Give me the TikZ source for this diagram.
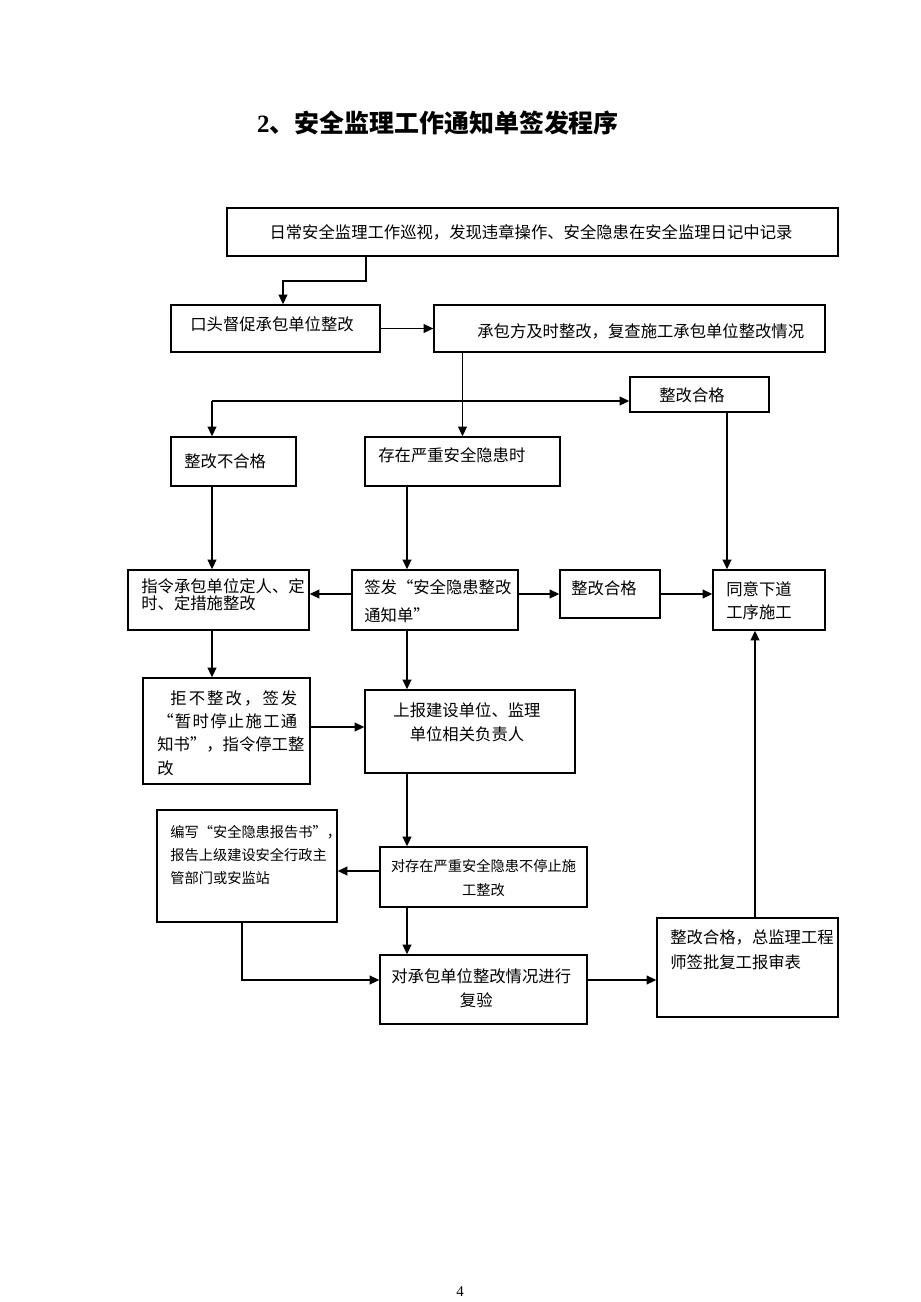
\documentclass[tikz,border=0pt]{standalone}
\usepackage{fontspec}
\setmainfont{Liberation Serif}
\newfontfamily\cjk{Noto Sans CJK SC}
\usetikzlibrary{arrows.meta}

\tikzset{
  box/.style={draw, line width=0.8pt, inner sep=0pt},
  txt/.style={font=\cjk\fontsize{9.3}{13.6}\selectfont, inner sep=0pt, align=left},
  smalltxt/.style={font=\cjk\fontsize{8.1}{13.3}\selectfont, inner sep=0pt},
  arr/.style={-{Triangle[length=5.5pt,width=5pt]}, line width=0.8pt},
}

\begin{document}
\begin{tikzpicture}[x=0.02cm, y=-0.02cm]
  \useasboundingbox (0,0) rectangle (920,1302);

  % title
  \node[font=\cjk\bfseries\fontsize{14.2}{16}\selectfont, inner sep=0pt] (title) at (438,123)
       {{\rmfamily 2}、安全监理工作通知单签发程序};

  % boxes, top to bottom
  \node[box, minimum width=12.22cm, minimum height=0.96cm] (top) at (532.5,232) {};
  \node[box, minimum width=4.18cm, minimum height=0.94cm] (oral) at (275.5,328.5) {};
  \node[box, minimum width=7.82cm, minimum height=0.94cm] (recheck) at (629.5,328.5) {};
  \node[box, minimum width=2.78cm, minimum height=0.70cm] (okA) at (699.5,394.5) {};
  \node[box, minimum width=2.5cm, minimum height=0.98cm] (fail) at (233.5,461.5) {};
  \node[box, minimum width=3.9cm, minimum height=0.98cm] (serious) at (462.5,461.5) {};
  \node[box, minimum width=3.62cm, minimum height=1.2cm] (order) at (218.5,600) {};
  \node[box, minimum width=3.32cm, minimum height=1.2cm] (issue) at (435,600) {};
  \node[box, minimum width=2.0cm, minimum height=0.96cm] (okB) at (610,594) {};
  \node[box, minimum width=2.24cm, minimum height=1.2cm] (agree) at (769,600) {};
  \node[box, minimum width=3.34cm, minimum height=2.12cm] (refuse) at (226.5,731) {};
  \node[box, minimum width=4.2cm, minimum height=1.66cm] (report) at (470,731.5) {};
  \node[box, minimum width=3.6cm, minimum height=2.24cm] (write) at (247,866) {};
  \node[box, minimum width=4.14cm, minimum height=1.2cm] (nostop) at (483.5,877) {};
  \node[box, minimum width=4.14cm, minimum height=1.38cm] (recheckB) at (483.5,989.5) {};
  \node[box, minimum width=3.62cm, minimum height=1.98cm] (chief) at (747.5,967.5) {};

  % texts
  \node[txt] (top-t) at (531,232) {日常安全监理工作巡视，发现违章操作、安全隐患在安全监理日记中记录};
  \node[txt, anchor=west] (oral-t) at (190,324) {口头督促承包单位整改};
  \node[txt, anchor=west] (recheck-t) at (477,331) {承包方及时整改，复查施工承包单位整改情况};
  \node[txt, anchor=west] (okA-t) at (659,395) {整改合格};
  \node[txt, anchor=west] (fail-t) at (184,461) {整改不合格};
  \node[txt, anchor=west] (serious-t) at (378,455) {存在严重安全隐患时};
  \node[txt, anchor=west, font=\cjk\fontsize{9.3}{9.8}\selectfont] (order-t) at (141,595)
       {指令承包单位定人、定\\时、定措施整改};
  \node[txt, anchor=west, font=\cjk\fontsize{9.3}{15.9}\selectfont] (issue-t) at (364,601)
       {签发“安全隐患整改\\通知单”};
  \node[txt, anchor=west] (okB-t) at (571,588) {整改合格};
  \node[txt, anchor=west, font=\cjk\fontsize{9.3}{13}\selectfont] (agree-t) at (726,601)
       {同意下道\\工序施工};
  \node[txt, anchor=west, font=\cjk\fontsize{9.3}{13.2}\selectfont] (refuse-t) at (157,733)
       {\hspace*{0.26cm}\makebox[2.54cm][s]{拒\hfill 不\hfill 整\hfill 改\hfill ，\hfill 签\hfill 发}\\
        \makebox[2.8cm][s]{“\hfill 暂\hfill 时\hfill 停\hfill 止\hfill 施\hfill 工\hfill 通}\\
        \makebox[2.8cm][s]{知\hfill 书\hfill ”\hfill ，\hfill 指\hfill 令\hfill 停\hfill 工\hfill 整}\\
        改};
  \node[txt, align=center] (report-t) at (467,722) {上报建设单位、监理\\单位相关负责人};
  \node[smalltxt, anchor=west, align=left] (write-t) at (170,855)
       {编写“安全隐患报告书”，\\报告上级建设安全行政主\\管部门或安监站};
  \node[smalltxt, align=center] (nostop-t) at (483.5,878) {对存在严重安全隐患不停止施\\工整改};
  \node[txt, anchor=west] (recheckB-t) at (391,988) {对承包单位整改情况进行\\\hspace*{4.2em}复验};
  \node[txt, anchor=west, font=\cjk\fontsize{9.3}{14.2}\selectfont] (chief-t) at (670,950)
       {整改合格，总监理工程\\师签批复工报审表};

  % page number
  \node[font=\fontsize{8.5}{9}\selectfont, inner sep=0pt] (pagenum) at (460,1292) {4};

  % columns and rows for the connectors
  \coordinate (colA) at (212,0);
  \coordinate (colB) at (407,0);
  \coordinate (colC) at (727,0);
  \coordinate (colD) at (755,0);
  \coordinate (colW) at (242,0);
  \coordinate (bendR) at (366,281);
  \coordinate (bendL) at (283,281);
  \coordinate (split) at (212,401);
  \coordinate (rowA) at (0,594);
  \coordinate (rowB) at (0,727);
  \coordinate (rowC) at (0,871);
  \coordinate (rowD) at (0,980);

  % connectors
  \draw[arr] (top.south -| bendR) -- (bendR) -- (bendL) -- (oral.north -| bendL);
  \draw[arr] (oral.east) -- (recheck.west);
  \draw[arr] (recheck.south -| serious.north) -- (serious.north);
  \draw[arr] (split) -- (okA.west |- split);
  \draw[arr] (split) -- (fail.north -| split);
  \draw[arr] (fail.south -| colA) -- (order.north -| colA);
  \draw[arr] (serious.south -| colB) -- (issue.north -| colB);
  \draw[arr] (okA.south -| colC) -- (agree.north -| colC);
  \draw[arr] (issue.west |- rowA) -- (order.east |- rowA);
  \draw[arr] (issue.east |- rowA) -- (okB.west |- rowA);
  \draw[arr] (okB.east) -- (agree.west |- okB.east);
  \draw[arr] (order.south -| colA) -- (refuse.north -| colA);
  \draw[arr] (issue.south -| colB) -- (report.north -| colB);
  \draw[arr] (refuse.east |- rowB) -- (report.west |- rowB);
  \draw[arr] (report.south -| colB) -- (nostop.north -| colB);
  \draw[arr] (nostop.west |- rowC) -- (write.east |- rowC);
  \draw[arr] (nostop.south -| colB) -- (recheckB.north -| colB);
  \draw[arr] (write.south -| colW) |- (recheckB.west |- rowD);
  \draw[arr] (recheckB.east |- rowD) -- (chief.west |- rowD);
  \draw[arr] (chief.north -| colD) -- (agree.south -| colD);
\end{tikzpicture}
\end{document}
